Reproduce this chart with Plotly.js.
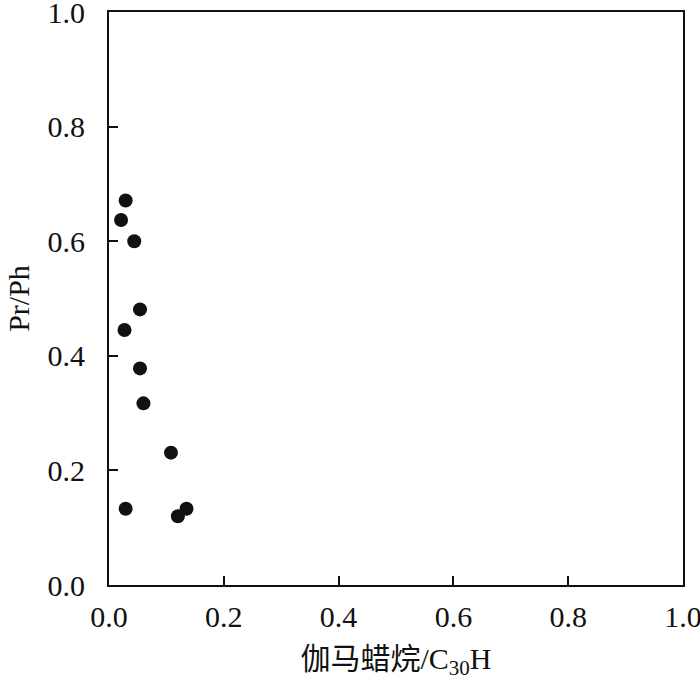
<!DOCTYPE html>
<html>
<head>
<meta charset="utf-8">
<script src="https://cdn.plot.ly/plotly-3.0.1.min.js"></script>
<style>
  html, body { margin: 0; padding: 0; background: #fff; }
  #chart { width: 700px; height: 680px; }
</style>
</head>
<body>
<div id="chart"></div>
<script>
// gammacerane / C30H  vs  Pr/Ph
const gammaRatio = [0.029, 0.021, 0.044, 0.054, 0.027, 0.054, 0.060, 0.108, 0.029, 0.120, 0.135];
const prPh = [0.671, 0.637, 0.600, 0.481, 0.445, 0.378, 0.317, 0.231, 0.133, 0.120, 0.133];
const tickVals = [0, 0.2, 0.4, 0.6, 0.8, 1.0];
const tickText = ["0.0", "0.2", "0.4", "0.6", "0.8", "1.0"];

const serif = "Liberation Serif";

const trace = {
  x: gammaRatio,
  y: prPh,
  type: "scatter",
  mode: "markers",
  marker: { size: 14, color: "#111111" },
  hoverinfo: "skip"
};

// shared axis style: boxed frame, inward ticks on left/bottom only
const axisBase = {
  range: [0, 1],
  tickvals: tickVals,
  ticktext: tickText,
  ticks: "inside",
  ticklen: 9,
  tickwidth: 2,
  tickcolor: "#111",
  showline: true,
  linewidth: 2,
  linecolor: "#111",
  mirror: true,
  showgrid: false,
  zeroline: false,
  ticklabeloverflow: "allow",
  tickfont: { family: serif, size: 30, color: "#111" }
};

const layout = {
  width: 700,
  height: 680,
  margin: { l: 109, r: 17, t: 12, b: 95 },
  paper_bgcolor: "#fff",
  plot_bgcolor: "#fff",
  showlegend: false,
  font: { family: serif, color: "#111" },
  xaxis: Object.assign({}, axisBase, {
    ticklabelstandoff: 4,
    title: { text: "伽马蜡烷/C<sub>30</sub>H", font: { family: "Liberation Serif, Noto Sans CJK SC", size: 30, color: "#111" }, standoff: 17 }
  }),
  yaxis: Object.assign({}, axisBase, {
    ticklabelstandoff: 16,
    title: { text: "Pr/Ph", font: { family: serif, size: 30, color: "#111" }, standoff: 9 }
  })
};

Plotly.newPlot("chart", [trace], layout, { staticPlot: true, displayModeBar: false });
</script>
</body>
</html>
